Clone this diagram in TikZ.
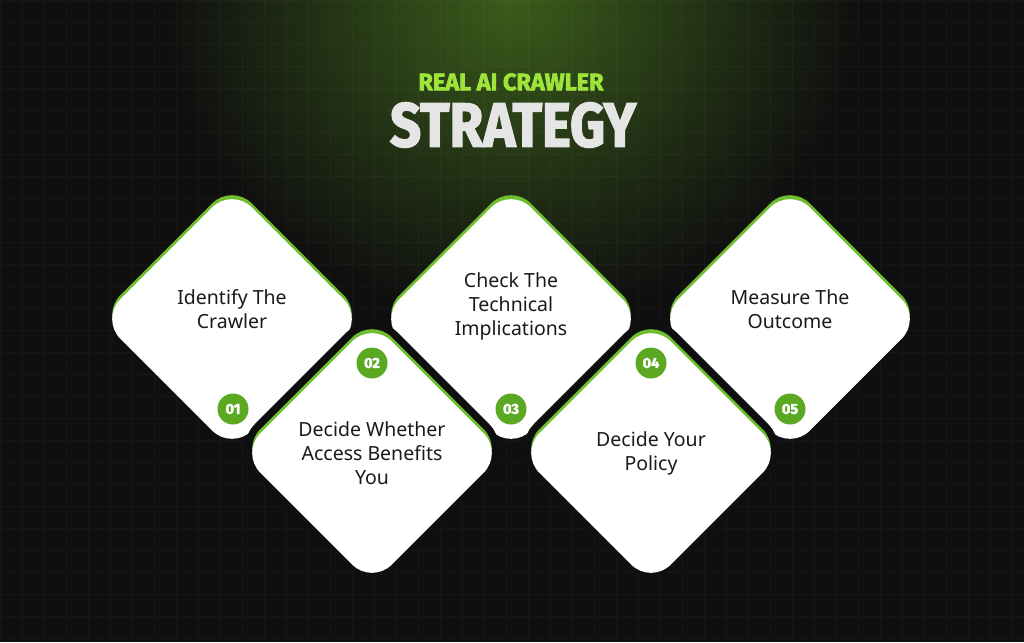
\documentclass[tikz,border=0pt]{standalone}
\usepackage{fontspec}
\setmainfont{Noto Sans}
\newfontfamily\headfont[BoldFeatures={FakeBold=2.5}]{Fira Sans}
\usetikzlibrary{shapes.geometric}

\definecolor{bgdark}{HTML}{0F0F0F}
\definecolor{glow}{HTML}{3A5C1B}
\definecolor{cardgreen}{HTML}{6FBE2E}
\definecolor{numgreen}{HTML}{5BA823}
\definecolor{titlegreen}{HTML}{9DE53A}
\definecolor{textdark}{HTML}{1A1A1A}

\begin{document}
\begin{tikzpicture}[
        x=1pt, y=-1pt,
        card/.style={diamond, rounded corners=28pt, minimum size=263pt, inner sep=0pt, fill=white,
            preaction={draw=bgdark, line width=#1, transform canvas={yshift=4pt}},
            preaction={fill=cardgreen, transform canvas={yshift=4pt}}},
        card/.default=0.1pt,
        cardtext/.style={align=center, text=textdark, font=\fontsize{19.5}{24}\selectfont},
        badge/.style={circle, fill=numgreen, minimum size=31pt, inner sep=0pt, text=white,
            font=\headfont\bfseries\fontsize{14.5}{14.5}\selectfont},
        gridline/.style={white, opacity=0.03, line width=0.6pt}
    ]
    \useasboundingbox (0,0) rectangle (1024,642);
    % background
    \fill[bgdark] (0,0) rectangle (1024,642);
    \shade[inner color=glow, outer color=bgdark] (512,0) ellipse (350 and 320);
    \draw[gridline] (0,0) grid[step=22pt] (1024,642);

    % title
    \node[text=titlegreen] (subtitle) at (511,82) {\resizebox{185pt}{17pt}{\headfont\bfseries REAL AI CRAWLER}};
    \node[text=white!90!black] (title) at (513,125) {\resizebox{246pt}{44pt}{\headfont\bfseries STRATEGY}};

    % upper row
    \node[card] (c1) at (232,319) {};
    \node[card] (c3) at (511,319) {};
    \node[card] (c5) at (790,319) {};
    % lower row, cut out of the upper one
    \node[card=15pt] (c2) at (372,453) {};
    \node[card=15pt] (c4) at (651,453) {};

    \node[cardtext] (t1) at (232,309) {Identify The\\Crawler};
    \node[cardtext] (t2) at (372,453) {Decide Whether\\Access Benefits\\You};
    \node[cardtext] (t3) at (511,306) {Check The\\Technical\\Implications};
    \node[cardtext] (t4) at (651,453) {Decide Your\\Policy};
    \node[cardtext] (t5) at (790,309) {Measure The\\Outcome};

    \node[badge] (n1) at (233,409) {01};
    \node[badge] (n2) at (372,363) {02};
    \node[badge] (n3) at (511,409) {03};
    \node[badge] (n4) at (651,363) {04};
    \node[badge] (n5) at (790,409) {05};
\end{tikzpicture}
\end{document}
